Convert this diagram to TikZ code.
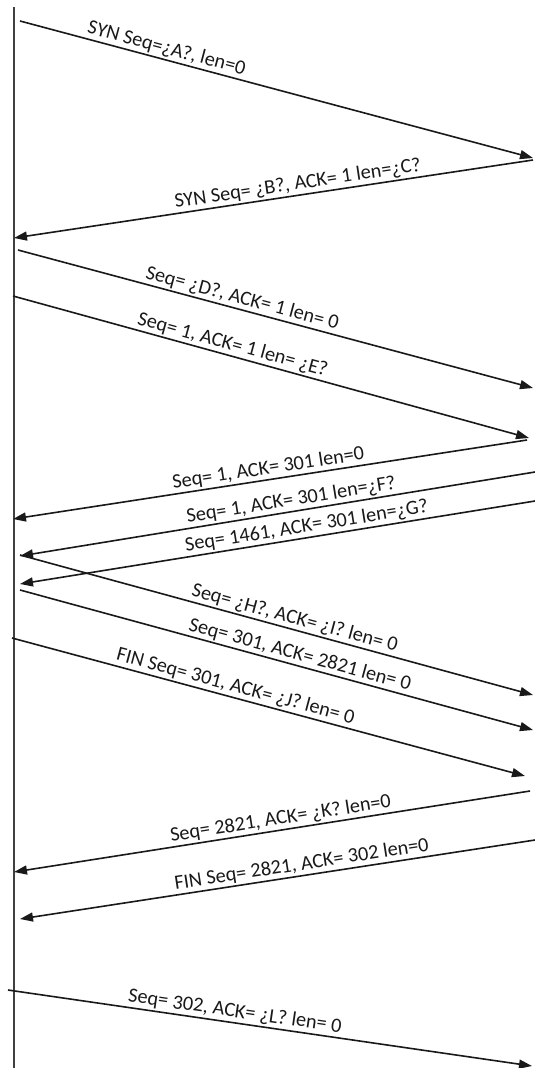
\documentclass[tikz,border=0pt]{standalone}
\usepackage{fontspec}
\setmainfont{Carlito}
\usetikzlibrary{arrows.meta}
\begin{document}
\begin{tikzpicture}[x=1pt,y=-1pt,
  msg/.style={line width=1.6pt, draw=black!90, -{Triangle[length=13pt,width=9pt]}},
  lab/.style={sloped, above, inner sep=1.5pt, text=black!90, font=\fontsize{20.3}{24}\selectfont}]
\useasboundingbox (0,0) rectangle (535,1068);
\draw[line width=1.4pt, black!75] (14,7) -- (14,1068);
% endpoints
\coordinate (a1) at (20,21);   \coordinate (b1) at (533,158);
\coordinate (a2) at (533,160); \coordinate (b2) at (14,238);
\coordinate (a3) at (18,250);  \coordinate (b3) at (533,388);
\coordinate (a4) at (13,296);  \coordinate (b4) at (529,438);
\coordinate (a5) at (527,440); \coordinate (b5) at (13,519);
\coordinate (a6) at (535,472); \coordinate (b6) at (20,556);
\coordinate (a7) at (535,501); \coordinate (b7) at (20,584);
\coordinate (a8) at (20,555);  \coordinate (b8) at (533,695);
\coordinate (a9) at (20,590);  \coordinate (b9) at (533,730);
\coordinate (a10) at (12,638); \coordinate (b10) at (525,776);
\coordinate (a11) at (530,791);\coordinate (b11) at (14,872);
\coordinate (a12) at (535,840);\coordinate (b12) at (20,919);
\coordinate (a13) at (8,990);  \coordinate (b13) at (532,1066);
\draw[msg] (a1) -- node[lab,pos=0.28] {SYN Seq=¿A?, len=0} (b1);
\draw[msg] (a2) -- node[lab,pos=0.45] {SYN Seq= ¿B?, ACK= 1 len=¿C?} (b2);
\draw[msg] (a3) -- node[lab,pos=0.43] {Seq= ¿D?, ACK= 1 len= 0} (b3);
\draw[msg] (a4) -- node[lab,pos=0.42] {Seq= 1, ACK= 1 len= ¿E?} (b4);
\draw[msg] (a5) -- node[lab,pos=0.50] {Seq= 1, ACK= 301 len=0} (b5);
\draw[msg] (a6) -- node[lab,pos=0.47] {Seq= 1, ACK= 301 len=¿F?} (b6);
\draw[msg] (a7) -- node[lab,pos=0.44] {Seq= 1461, ACK= 301 len=¿G?} (b7);
\draw[msg] (a8) -- node[lab,pos=0.53] {Seq= ¿H?, ACK= ¿I? len= 0} (b8);
\draw[msg] (a9) -- node[lab,pos=0.54] {Seq= 301, ACK= 2821 len= 0} (b9);
\draw[msg] (a10) -- node[lab,pos=0.43] {FIN Seq= 301, ACK= ¿J? len= 0} (b10);
\draw[msg] (a11) -- node[lab,pos=0.48] {Seq= 2821, ACK= ¿K? len=0} (b11);
\draw[msg] (a12) -- node[lab,pos=0.45] {FIN Seq= 2821, ACK= 302 len=0} (b12);
\draw[msg] (a13) -- node[lab,pos=0.43] {Seq= 302, ACK= ¿L? len= 0} (b13);
\end{tikzpicture}
\end{document}
